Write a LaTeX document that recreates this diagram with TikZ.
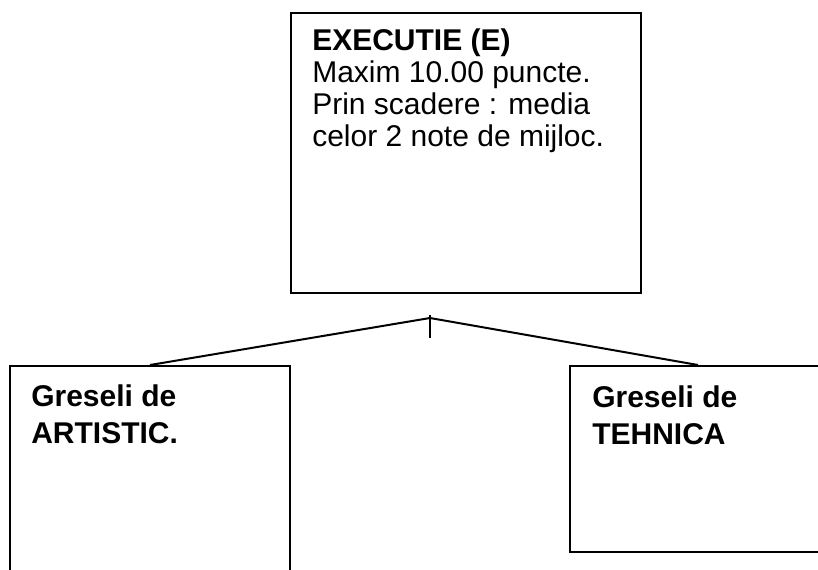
\documentclass[tikz,border=0pt]{standalone}
\usepackage{fontspec}
\setmainfont{Liberation Sans}
\usepackage{tikz}
\usetikzlibrary{calc,positioning}

\begin{document}
\begin{tikzpicture}[
  x=0.75pt,
  y=-0.75pt,
  box/.style={
    draw=black,
    line width=1.5pt,
    anchor=north west,
    inner sep=0pt
  },
  boxtext/.style={
    anchor=north west,
    inner sep=0pt,
    align=left,
    font=\fontsize{22.5pt}{24pt}\selectfont
  },
  sidetext/.style={
    boxtext,
    font=\fontsize{22.5pt}{27.75pt}\selectfont\bfseries
  },
  link/.style={
    line width=1.5pt,
    black
  },
  tick/.style={
    line width=1pt,
    black
  }
]

\useasboundingbox (0,0) rectangle (818,569);
\clip (0,0) rectangle (818,569);

% Main box
\node[box, minimum width=262.5pt, minimum height=210pt]
  (exec) at (290,12) {};

\node[boxtext] (exectext) at ($(exec.north west)+(22,16.5)$)
  {\textbf{EXECUTIE (E)}\\
   Maxim 10.00 puncte.\\
   Prin scadere : media\\
   celor 2 note de mijloc.};

% Lower boxes
\node[box, minimum width=210pt, minimum height=180pt]
  (artistic) at (9,365) {};

\node[sidetext] (artistictext) at ($(artistic.north west)+(22,19)$)
  {Greseli de\\ARTISTIC.};

\node[box, minimum width=192pt, minimum height=139.5pt]
  (tehnica) at (569,365) {};

\node[sidetext] (tehnicatext) at ($(tehnica.north west)+(23,20)$)
  {Greseli de\\TEHNICA};

% Fork
\coordinate (fork) at (430,318);
\coordinate (forktop) at (430,315);
\coordinate (forkbot) at (430,338);

\draw[link] (artistic.north) -- (fork) -- (tehnica.north);
\draw[tick] (forktop) -- (forkbot);

\end{tikzpicture}
\end{document}
